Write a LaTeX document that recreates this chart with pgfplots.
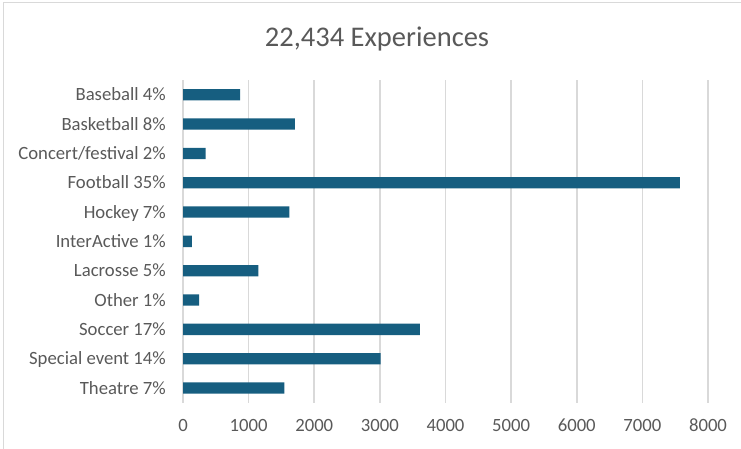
\documentclass[border=0pt]{standalone}
\usepackage{fontspec}
\setmainfont{Carlito}
\usepackage{pgfplots}
\pgfplotsset{compat=1.18}
\definecolor{barc}{RGB}{22,94,128}
\definecolor{txt}{RGB}{89,89,89}
\definecolor{grd}{RGB}{217,217,217}
\begin{document}
\begin{tikzpicture}[x=1bp,y=1bp]
\path[use as bounding box] (0,0) rectangle (741,449);
\draw[grd, line width=1.5bp] (3.5,-10) -- (3.5,446.5) -- (760,446.5);
\node[txt, font=\fontsize{28.5bp}{32bp}\selectfont] at (377,410) {22,434 Experiences};
\begin{axis}[
  at={(183bp,46.3bp)}, anchor=south west,
  scale only axis, width=525bp, height=322.6bp,
  xbar, bar width=11.3bp,
  xmin=0, xmax=8000, xtick={0,1000,...,8000},
  ymin=-0.5, ymax=10.5, y dir=reverse,
  ytick={0,...,10},
  yticklabels={Baseball 4\%, Basketball 8\%, Concert/festival 2\%, Football 35\%, Hockey 7\%, InterActive 1\%, Lacrosse 5\%, Other 1\%, Soccer 17\%, Special event 14\%, Theatre 7\%},
  axis line style={draw=none},
  major tick length=0pt,
  xmajorgrids, major grid style={grd, line width=1.7bp},
  /pgf/number format/assume math mode=true,
  /pgf/number format/1000 sep={},
  tick label style={txt, font=\fontsize{18.7bp}{22bp}\selectfont, inner sep=0pt},
  xticklabel style={anchor=north, yshift=-16bp},
  yticklabel style={anchor=east, xshift=-17bp, text height=12bp, text depth=0bp},
]
\addplot[draw=none, fill=barc] coordinates {
(870,0) (1705,1) (345,2) (7570,3) (1620,4) (137,5) (1148,6) (244,7) (3610,8) (3010,9) (1545,10)
};
\end{axis}
\end{tikzpicture}
\end{document}
